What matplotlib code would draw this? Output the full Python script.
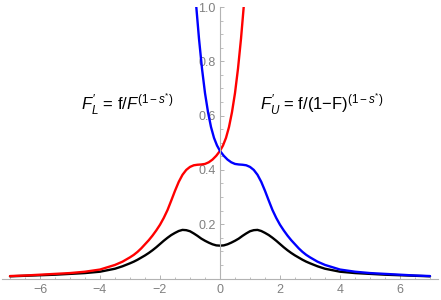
import numpy as np
import matplotlib
matplotlib.use("Agg")
import matplotlib.pyplot as plt
from matplotlib.ticker import MultipleLocator, FixedLocator

plt.rcParams['font.family'] = ['Liberation Sans', 'DejaVu Sans']
plt.rcParams['mathtext.fontset'] = 'custom'
plt.rcParams['mathtext.rm'] = 'Liberation Sans'
plt.rcParams['mathtext.it'] = 'Liberation Sans:italic'
plt.rcParams['mathtext.bf'] = 'Liberation Sans:bold'

# values (density f, symmetric)
x_f = [-7, -6.5, -6, -5.5, -5, -4.5, -4, -3.5, -3.25, -3, -2.875, -2.75, -2.625, -2.5,
       -2.375, -2.25, -2.125, -2, -1.875, -1.75, -1.625, -1.5, -1.375, -1.25, -1.125,
       -1, -0.875, -0.75, -0.625, -0.5, -0.375, -0.25, -0.125, 0,
       0.125, 0.25, 0.375, 0.5, 0.625, 0.75, 0.875, 1, 1.125, 1.25, 1.375, 1.5, 1.625,
       1.75, 1.875, 2, 2.125, 2.25, 2.375, 2.5, 2.625, 2.75, 2.875, 3, 3.25, 3.5, 4,
       4.5, 5, 5.5, 6, 6.5, 7]
f_vals = [0.008, 0.010, 0.012, 0.014, 0.017, 0.020, 0.025, 0.036, 0.045, 0.056, 0.062,
          0.069, 0.077, 0.085, 0.094, 0.104, 0.115, 0.127, 0.139, 0.150, 0.160, 0.168,
          0.175, 0.179, 0.178, 0.174, 0.166, 0.157, 0.147, 0.139, 0.132, 0.126, 0.122,
          0.121,
          0.122, 0.126, 0.132, 0.139, 0.147, 0.157, 0.166, 0.174, 0.178, 0.179, 0.175,
          0.168, 0.160, 0.150, 0.139, 0.127, 0.115, 0.104, 0.094, 0.085, 0.077, 0.069,
          0.062, 0.056, 0.045, 0.036, 0.025, 0.020, 0.017, 0.014, 0.012, 0.010, 0.008]

# lower-tail ratio F'_L (red)
x_low = [-7, -6.5, -6, -5.5, -5, -4.5, -4, -3.5, -3.25, -3, -2.875, -2.75, -2.625, -2.5,
         -2.375, -2.25, -2.125, -2, -1.875, -1.75, -1.625, -1.5, -1.375, -1.25, -1.125,
         -1, -0.875, -0.75, -0.625, -0.5, -0.375, -0.25, -0.125, 0,
         0.1, 0.2, 0.3, 0.4, 0.5, 0.6, 0.7, 0.8, 0.9]
low_vals = [0.009, 0.011, 0.014, 0.017, 0.020, 0.025, 0.033, 0.050, 0.062, 0.078, 0.087,
            0.098, 0.111, 0.126, 0.141, 0.158, 0.177, 0.198, 0.223, 0.252, 0.287, 0.323,
            0.356, 0.382, 0.400, 0.411, 0.417, 0.419, 0.420, 0.422, 0.428, 0.438, 0.452,
            0.470,
            0.490, 0.518, 0.558, 0.613, 0.683, 0.773, 0.883, 1.013, 1.163]

# upper-tail ratio F'_U (blue)
x_up = [-0.9, -0.8, -0.7, -0.6, -0.5, -0.4, -0.3, -0.2, -0.1, 0,
        0.125, 0.25, 0.375, 0.5, 0.625, 0.75, 0.875, 1, 1.125, 1.25, 1.375, 1.5, 1.625,
        1.75, 1.875, 2, 2.125, 2.25, 2.375, 2.5, 2.625, 2.75, 2.875, 3, 3.25, 3.5, 4,
        4.5, 5, 5.5, 6, 6.5, 7]
up_vals = [1.163, 1.013, 0.883, 0.773, 0.683, 0.613, 0.558, 0.518, 0.490, 0.470,
           0.452, 0.438, 0.428, 0.422, 0.420, 0.419, 0.417, 0.411, 0.400, 0.382, 0.356,
           0.323, 0.287, 0.252, 0.223, 0.198, 0.177, 0.158, 0.141, 0.126, 0.111, 0.098,
           0.087, 0.078, 0.062, 0.050, 0.033, 0.025, 0.020, 0.017, 0.014, 0.011, 0.009]

x_ticks = [-6, -4, -2, 0, 2, 4, 6]
y_ticks = [0.2, 0.4, 0.6, 0.8, 1.0]

fig = plt.figure(figsize=(4.41, 3.0), dpi=100)
ax = fig.add_axes([1.6 / 441, 21.5 / 300, 436.8 / 441, 271.5 / 300])

line_kw = dict(lw=1.7, solid_joinstyle='round', solid_capstyle='round')
ax.plot(x_f, f_vals, color='black', **line_kw)
ax.plot(x_low, low_vals, color='red', **line_kw)
ax.plot(x_up, up_vals, color='blue', **line_kw)

ax.set_xlim(-7.28, 7.28)
ax.set_ylim(0, 1.0)

axis_gray = '#b3b3b3'
label_gray = '#808080'
for side in ['top', 'right']:
    ax.spines[side].set_visible(False)
ax.spines['left'].set_position(('data', 0))
ax.spines['bottom'].set_position(('data', 0))
ax.spines['left'].set_color(axis_gray)
ax.spines['bottom'].set_color(axis_gray)
ax.spines['left'].set_linewidth(0.8)
ax.spines['bottom'].set_linewidth(0.8)

ax.xaxis.set_major_locator(FixedLocator(x_ticks))
ax.xaxis.set_minor_locator(MultipleLocator(0.5))
ax.yaxis.set_major_locator(FixedLocator(y_ticks))
ax.yaxis.set_minor_locator(MultipleLocator(0.05))
ax.set_xticklabels([f"{t:d}".replace('-', '\u2212') for t in x_ticks])
ax.set_yticklabels([f"{t:.1f}" for t in y_ticks])

ax.tick_params(which='major', direction='in', length=3.2, width=0.7, color=axis_gray,
               labelcolor=label_gray, labelsize=9)
ax.tick_params(which='minor', direction='in', length=1.8, width=0.6, color=axis_gray)
ax.tick_params(axis='x', pad=4)
ax.tick_params(axis='y', pad=3)

ax.text(-3.09, 0.617, r"$F_{L}^{\prime}$ = f/$F^{(1-s^{*})}$", ha='center',
        va='baseline', fontsize=12)
ax.text(3.4, 0.617, "$F_{U}^{\\prime}$ = f/(1\u2212F)$^{(1-s^{*})}$", ha='center',
        va='baseline', fontsize=12)

fig.savefig("out.png", dpi=100)
